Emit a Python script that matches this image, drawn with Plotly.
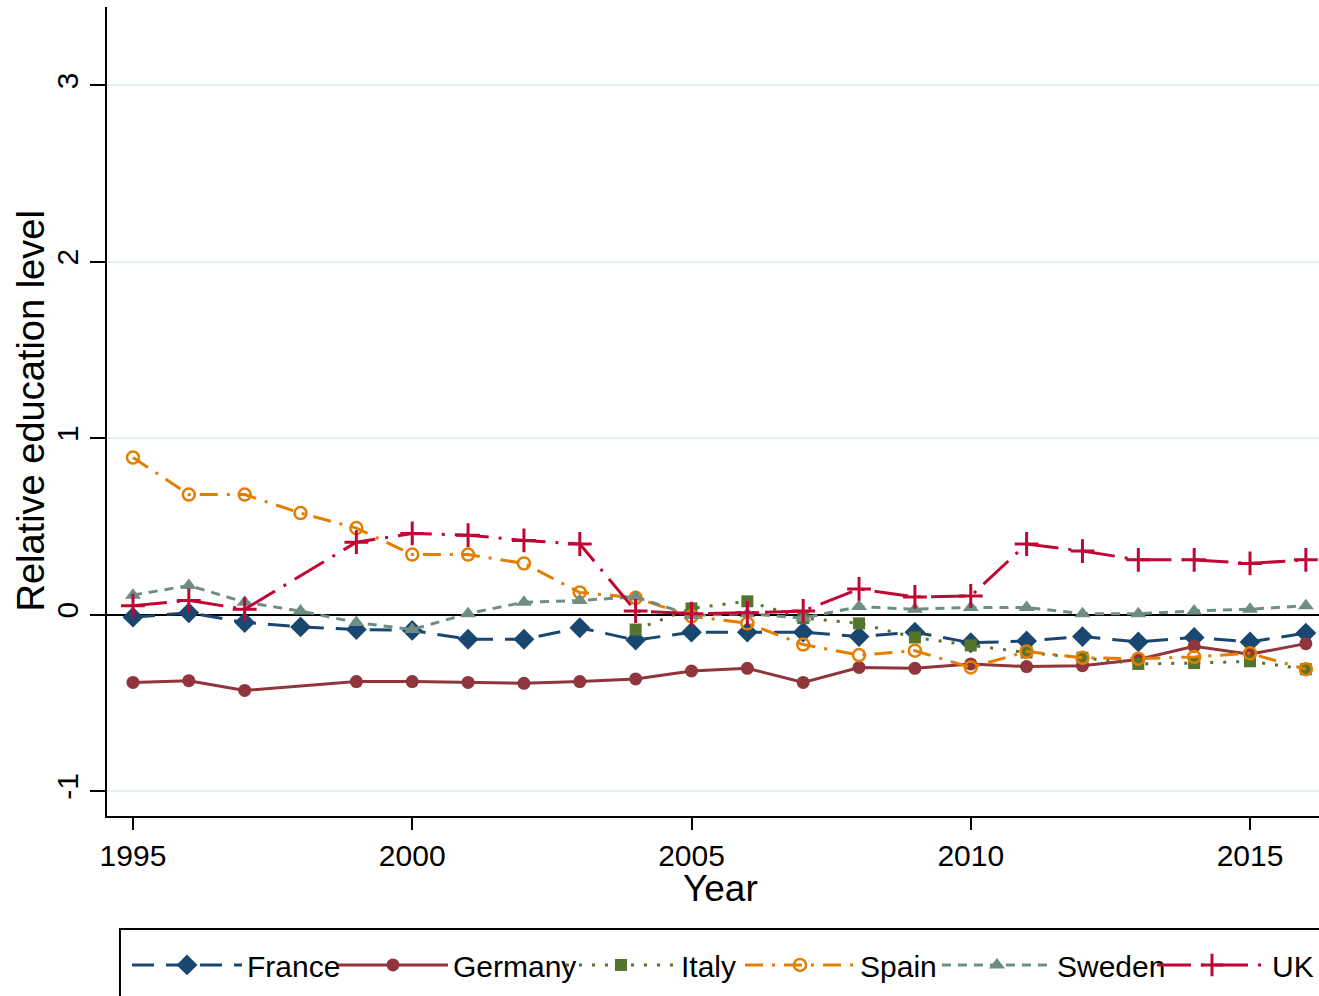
import plotly.graph_objects as go

years = list(range(1995, 2017))

france = [-0.015, 0.01, -0.045, -0.07, -0.085, -0.09, -0.14, -0.14, -0.075, -0.145, -0.10,
          -0.10, -0.10, -0.125, -0.10, -0.16, -0.15, -0.125, -0.155, -0.13, -0.155, -0.105]
germany = [-0.385, -0.375, -0.43, None, -0.38, -0.38, -0.385, -0.39, -0.38, -0.365, -0.32,
           -0.305, -0.385, -0.30, -0.305, -0.28, -0.295, -0.29, -0.255, -0.18, -0.225, -0.165]
italy = [None, None, None, None, None, None, None, None, None, -0.085, 0.035,
         0.075, -0.02, -0.05, -0.13, -0.175, -0.215, -0.245, -0.28, -0.275, -0.265, -0.31]
spain = [0.89, 0.68, 0.68, 0.575, 0.49, 0.34, 0.34, 0.29, 0.125, 0.095, -0.01,
         -0.05, -0.17, -0.23, -0.205, -0.30, -0.21, -0.245, -0.25, -0.24, -0.22, -0.31]
sweden = [0.11, 0.165, 0.07, 0.02, -0.045, -0.085, 0.005, 0.07, 0.08, 0.10, -0.005,
          0.005, -0.02, 0.045, 0.03, 0.04, 0.04, 0.005, 0.005, 0.02, 0.03, 0.05]
uk = [0.05, 0.08, 0.03, None, 0.41, 0.46, 0.45, 0.42, 0.40, 0.02, 0.005,
      0.01, 0.02, 0.145, 0.10, 0.105, 0.40, 0.36, 0.31, 0.31, 0.29, 0.31]

x_ticks = [1995, 2000, 2005, 2010, 2015]
y_ticks = [-1, 0, 1, 2, 3]
y_ticktext = ["-1", "0", "1", "2", "3"]
x_title = "Year"
y_title = "Relative education level"

FONT = "Liberation Sans, Arial, sans-serif"

series = [
    dict(name="France", y=france, color="#1A476F", dash="22px,12px",
         marker=dict(symbol="diamond", size=16), lw=81),
    dict(name="Germany", y=germany, color="#90353B", dash="solid",
         marker=dict(symbol="circle", size=13), lw=103),
    dict(name="Italy", y=italy, color="#55752F", dash="3px,10px",
         marker=dict(symbol="square", size=12), lw=54),
    dict(name="Spain", y=spain, color="#E37E00", dash="18px,9px,3px,9px",
         marker=dict(symbol="circle-open", size=12, line=dict(width=2.5)), lw=72),
    dict(name="Sweden", y=sweden, color="#6E8E84", dash="9px,7px",
         marker=dict(symbol="triangle-up", size=14), lw=90),
    dict(name="UK", y=uk, color="#C10534", dash="34px,10px,3px,10px",
         marker=dict(symbol="cross-thin", size=17, line=dict(width=3)), lw=None),
]

fig = go.Figure()
for s in series:
    m = dict(s["marker"])
    m["color"] = s["color"]
    if "line" in m:
        m["line"] = dict(m["line"], color=s["color"])
    kw = {}
    if s["lw"] is not None:
        kw["legendwidth"] = s["lw"]
    fig.add_trace(go.Scatter(
        x=years, y=s["y"], name=s["name"], mode="lines+markers",
        connectgaps=True,
        line=dict(color=s["color"], width=3, dash=s["dash"]),
        marker=m, **kw))

fig.update_layout(
    width=1319, height=996,
    margin=dict(l=107, r=0, t=7, b=180, autoexpand=False),
    paper_bgcolor="white", plot_bgcolor="white",
    font=dict(family=FONT, size=30, color="black"),
    showlegend=True,
    legend=dict(orientation="h", x=0.0165, xanchor="left", y=-0.152, yanchor="top",
                itemwidth=110, borderwidth=0, bgcolor="rgba(0,0,0,0)",
                font=dict(size=30), itemclick=False),
    xaxis=dict(range=[1994.535, 2016.235], tickvals=x_ticks, ticks="outside",
               ticklen=12, tickwidth=2, tickcolor="black", showgrid=False,
               showline=True, linecolor="black", linewidth=2, zeroline=False,
               tickfont=dict(size=30)),
    yaxis=dict(range=[-1.142, 3.444], tickvals=y_ticks, ticktext=y_ticktext,
               ticks="outside", ticklen=15, tickwidth=2, tickcolor="black", tickangle=-90,
               showgrid=True, gridcolor="#E6EFF1", gridwidth=2,
               showline=True, linecolor="black", linewidth=2,
               zeroline=True, zerolinecolor="black", zerolinewidth=2,
               tickfont=dict(size=30)),
    annotations=[
        dict(text=x_title, xref="paper", yref="paper", x=0.5058, y=-0.089,
             xanchor="center", yanchor="middle", showarrow=False, font=dict(size=37)),
        dict(text=y_title, xref="paper", yref="paper", x=-0.0635, y=0.5,
             xanchor="center", yanchor="middle", showarrow=False, textangle=-90,
             font=dict(size=38)),
    ],
    shapes=[dict(type="rect", xref="paper", yref="paper",
                 x0=0.0107, x1=1.05, y0=-0.1397, y1=-0.3,
                 line=dict(color="black", width=2), fillcolor="rgba(0,0,0,0)")],
)

fig.write_html("out.html", config={"displayModeBar": False},
               post_script="document.body.style.margin='0';document.body.style.overflow='hidden';")
